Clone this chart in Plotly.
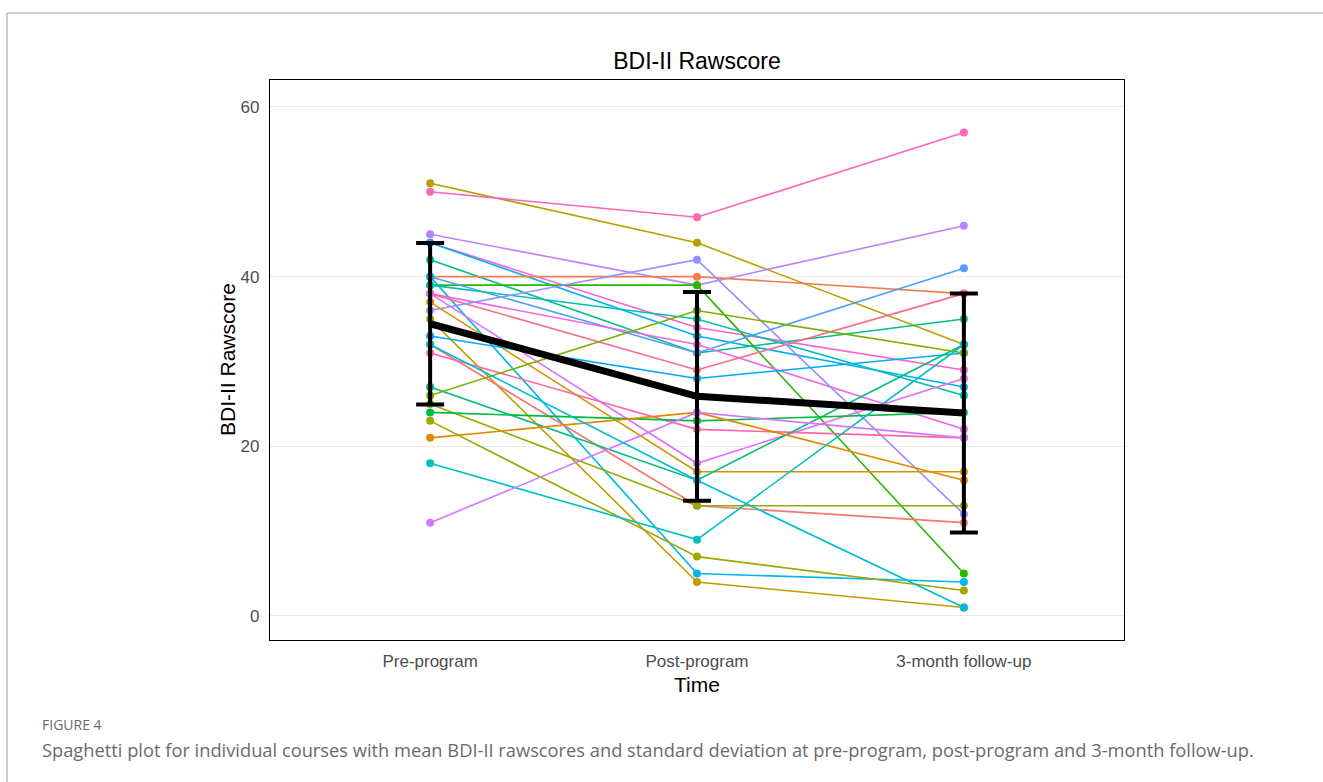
import numpy as np
import plotly.graph_objects as go

# ---- data ----
time_labels = ["Pre-program", "Post-program", "3-month follow-up"]

pre_scores = [51, 50, 45, 44, 44, 42, 40, 39, 40, 40, 39, 38, 38, 38, 36,
              37, 35, 33, 32, 31, 27, 26, 25, 24, 23, 21, 18, 11, 32]
post_scores = [44, 47, 39, 34, 33, 31, 40, 39, 31, 5, 35, 32, 29, 18, 42,
               17, 4, 28, 13, 22, 16, 36, 13, 23, 7, 24, 9, 24, 16]
follow_scores = [32, 57, 46, 29, 27, 35, 38, 5, 41, 4, 26, 22, 38, 28, 12,
                 17, 1, 31, 11, 21, 32, 31, 13, 24, 3, 16, 32, 21, 1]

subject_colors = ["#B79F00", "#FF66B5", "#B983FF", "#FD61D1", "#00B0F6",
                  "#00BD8B", "#F17D50", "#2DB600", "#529EFF", "#00B6EB",
                  "#00C0AF", "#EF67EB", "#FB6F88", "#E36EF6", "#9590FF",
                  "#D89000", "#C49A00", "#00A9FF", "#F8766D", "#FF67A4",
                  "#00BC7A", "#7CAE00", "#96A900", "#00BA42", "#A3A500",
                  "#E38900", "#00BFC4", "#D177FF", "#00BCD8"]

x_pos = [0, 1, 2]

# ---- layout geometry (page pixels) ----
W, H = 1323, 782
L, R, T, B = 270, 1124, 80, 640


def px_x(px):
    return (px - L) / (R - L)


def px_y(py):
    return (B - py) / (B - T)


fig = go.Figure()

for i in range(len(pre_scores)):
    fig.add_trace(go.Scatter(
        x=x_pos,
        y=[pre_scores[i], post_scores[i], follow_scores[i]],
        mode="lines+markers",
        line=dict(color=subject_colors[i], width=1.6),
        marker=dict(color=subject_colors[i], size=8),
        showlegend=False,
        hoverinfo="skip",
    ))

scores = np.array([pre_scores, post_scores, follow_scores], dtype=float)
means = scores.mean(axis=1)
sds = scores.std(axis=1, ddof=1)

fig.add_trace(go.Scatter(
    x=x_pos, y=means, mode="lines",
    line=dict(color="black", width=7),
    showlegend=False, hoverinfo="skip",
))
fig.add_trace(go.Scatter(
    x=x_pos, y=means, mode="markers",
    marker=dict(size=1, color="black", opacity=0),
    error_y=dict(type="data", array=sds, visible=True, color="black",
                 thickness=4, width=14),
    showlegend=False, hoverinfo="skip",
))

fig.update_layout(
    width=W, height=H,
    margin=dict(l=L, r=W - R, t=T, b=H - B),
    paper_bgcolor="white",
    plot_bgcolor="white",
    font=dict(family="Liberation Sans, Arial, sans-serif"),
    title=dict(text="BDI-II Rawscore", x=697 / W, xanchor="center",
               y=1 - 61 / H, yanchor="middle",
               font=dict(size=23, color="black")),
    xaxis=dict(
        range=[-0.6, 2.6], tickvals=x_pos, ticktext=time_labels,
        showgrid=False, zeroline=False,
        showline=True, linecolor="black", linewidth=1.2, mirror=True,
        ticks="outside", ticklen=5, tickcolor="rgba(0,0,0,0)",
        tickfont=dict(size=17, color="#4D4D4D"),
    ),
    yaxis=dict(
        range=[-2.83, 63.18], tickvals=[0, 20, 40, 60],
        showgrid=True, gridcolor="#EBEBEB", gridwidth=1.2, zeroline=False,
        showline=True, linecolor="black", linewidth=1.2, mirror=True,
        ticks="outside", ticklen=6, tickcolor="rgba(0,0,0,0)",
        tickfont=dict(size=17, color="#4D4D4D"),
    ),
    annotations=[
        dict(text="Time", xref="paper", yref="paper",
             x=px_x(697), y=px_y(684), xanchor="center", yanchor="middle",
             showarrow=False, font=dict(size=21, color="black")),
        dict(text="BDI-II Rawscore", xref="paper", yref="paper",
             x=px_x(227), y=px_y(360), xanchor="center", yanchor="middle",
             textangle=-90, showarrow=False,
             font=dict(size=21, color="black")),
        dict(text="FIGURE 4", xref="paper", yref="paper",
             x=px_x(40), y=px_y(724), xanchor="left", yanchor="middle",
             showarrow=False,
             font=dict(size=14, color="#6b6b6b",
                       family="Open Sans, Noto Sans, sans-serif")),
        dict(text="Spaghetti plot for individual courses with mean BDI-II rawscores "
                  "and standard deviation at pre-program, post-program and 3-month follow-up.",
             xref="paper", yref="paper",
             x=px_x(40), y=px_y(749), xanchor="left", yanchor="middle",
             showarrow=False,
             font=dict(size=18.3, color="#6b6b6b",
                       family="Open Sans, Noto Sans, sans-serif")),
    ],
    shapes=[
        dict(type="line", xref="paper", yref="paper",
             x0=px_x(7), x1=px_x(1330), y0=px_y(13), y1=px_y(13),
             line=dict(color="#9a9a9a", width=1)),
        dict(type="line", xref="paper", yref="paper",
             x0=px_x(7), x1=px_x(7), y0=px_y(13), y1=px_y(790),
             line=dict(color="#9a9a9a", width=1)),
    ],
)

fig.write_html(
    "out.html",
    config={"displayModeBar": False},
    post_script="document.body.style.margin='0';document.body.style.overflow='hidden';",
)
